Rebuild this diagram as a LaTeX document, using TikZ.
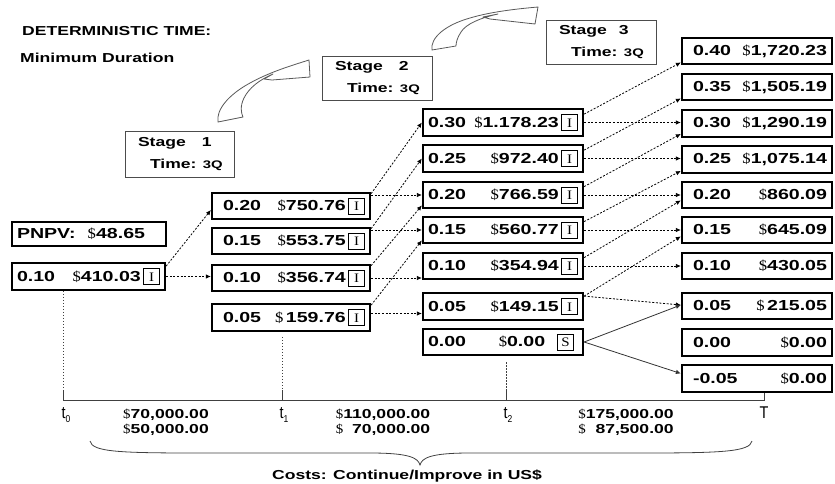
\documentclass[tikz,border=0pt]{standalone}
\usepackage{fontspec}
\setmainfont{Liberation Sans}[FakeStretch=1.35]
\newfontfamily\dolfont{Liberation Serif}[FakeStretch=1.15]
\newfontfamily\tfont{Liberation Sans}[FakeStretch=0.85]
\usetikzlibrary{arrows.meta,calc}
\newcommand\dsign{{\dolfont\mdseries\$}}
\newcommand\ibx[1]{{\setlength\fboxrule{0.9pt}\setlength\fboxsep{0pt}\fbox{\makebox[15pt][c]{\rule[-3pt]{0pt}{15pt}\dolfont\mdseries\fontsize{13}{13}\selectfont #1}}}}
\newcommand\vrowtext[3]{\makebox[#1]{#2\hfill#3}}
\newcommand\tsub[1]{\raisebox{-4pt}{\fontsize{10}{10}\selectfont #1}}
\begin{document}
\begin{tikzpicture}[x=1pt,y=-1pt,
  vbox/.style={draw, line width=2.3pt, inner xsep=5pt, inner ysep=0pt, minimum height=26.5pt, font=\bfseries\fontsize{14.5}{14.5}\selectfont},
  stagebox/.style={draw=black!70, line width=0.9pt, fill=white, align=left, inner xsep=5pt, inner ysep=0pt, font=\bfseries\fontsize{13}{22}\selectfont},
  flow/.style={dash pattern=on 2pt off 1.6pt, line width=0.8pt, -{Latex[length=5pt,width=4.5pt]}},
  solidflow/.style={line width=0.8pt, black!80, -{Latex[length=5pt,width=4.5pt]}},
  axis/.style={line width=0.9pt, black!75},
  vdot/.style={line width=0.8pt, black!75, dash pattern=on 1.5pt off 1.5pt},
  curvy/.style={draw=black!65, line width=0.8pt, fill=white, line join=round},
  tlabel/.style={font=\tfont\fontsize{17}{17}\selectfont, inner sep=0pt},
  cost/.style={font=\bfseries\fontsize{13}{15}\selectfont, inner sep=0pt},
  heading/.style={font=\bfseries\fontsize{13}{13}\selectfont, inner sep=0pt, anchor=west}]
\useasboundingbox (0,0) rectangle (835,483);

% headings
\node[heading] (h1) at (22,31) {DETERMINISTIC TIME:};
\node[heading] (h2) at (20,58) {Minimum Duration};

% stage boxes
\node[stagebox, text width=99pt, minimum height=46pt] (st1) at (179.5,154)
  {\hspace*{8pt}Stage\hspace{16pt}1\\\hspace*{20pt}Time: {\fontsize{11}{11}\selectfont 3Q}};
\node[stagebox, text width=100pt, minimum height=44pt] (st2) at (377,78)
  {\hspace*{8pt}Stage\hspace{16pt}2\\\hspace*{20pt}Time: {\fontsize{11}{11}\selectfont 3Q}};
\node[stagebox, text width=100pt, minimum height=44pt] (st3) at (601,42)
  {\hspace*{8pt}Stage\hspace{12pt}3\\\hspace*{20pt}Time: {\fontsize{11}{11}\selectfont 3Q}};

% curved arrows
\draw[curvy] (218,122) .. controls (216,110) and (228,95) .. (250,83)
  .. controls (270,72) and (290,66) .. (309,60) -- (310,77) -- (272,80) -- (264,79)
  -- (273,74) .. controls (259,80) and (249,88) .. (244,98)
  .. controls (240,106) and (241,113) .. (243,117) -- cycle;
\draw[curvy] (432,50) .. controls (430,38) and (445,25) .. (470,18)
  .. controls (490,12) and (515,9) .. (538,7) -- (535,24) -- (490,19) -- (483,17)
  -- (498,14) .. controls (480,18) and (466,24) .. (461,32)
  .. controls (457,38) and (456,43) .. (456,46) -- cycle;

% stage 0
\node[vbox, minimum width=154pt, minimum height=24pt] (pnpv) at (89,234)
  {\makebox[144pt][l]{PNPV:\hspace{12pt}\dsign48.65}};
\node[vbox, minimum width=153pt] (v0) at (88.5,276.5)
  {\vrowtext{143pt}{0.10}{\dsign410.03\,\ibx{I}}};

% stage 1
\node[vbox, minimum width=158pt] (p1a) at (291,206) {\vrowtext{148pt}{\hspace*{6pt}0.20}{\dsign750.76\,\ibx{I}}};
\node[vbox, minimum width=158pt] (p1b) at (291,241) {\vrowtext{148pt}{\hspace*{6pt}0.15}{\dsign553.75\,\ibx{I}}};
\node[vbox, minimum width=158pt] (p1c) at (291,278) {\vrowtext{148pt}{\hspace*{6pt}0.10}{\dsign356.74\,\ibx{I}}};
\node[vbox, minimum width=158pt] (p1d) at (291,317.5) {\vrowtext{148pt}{\hspace*{6pt}0.05}{\dsign\,159.76\,\ibx{I}}};

% stage 2
\node[vbox, minimum width=160pt] (p2a) at (503,122.5) {\vrowtext{150pt}{0.30}{\dsign1.178.23\,\ibx{I}}};
\node[vbox, minimum width=160pt] (p2b) at (503,158.5) {\vrowtext{150pt}{0.25}{\dsign972.40\,\ibx{I}}};
\node[vbox, minimum width=160pt] (p2c) at (503,195) {\vrowtext{150pt}{0.20}{\dsign766.59\,\ibx{I}}};
\node[vbox, minimum width=160pt] (p2d) at (503,230) {\vrowtext{150pt}{0.15}{\dsign560.77\,\ibx{I}}};
\node[vbox, minimum width=160pt] (p2e) at (503,266) {\vrowtext{150pt}{0.10}{\dsign354.94\,\ibx{I}}};
\node[vbox, minimum width=160pt] (p2f) at (503,306.5) {\vrowtext{150pt}{0.05}{\dsign149.15\,\ibx{I}}};
\node[vbox, minimum width=160pt] (p2g) at (503,342) {\vrowtext{150pt}{0.00}{\dsign0.00\hspace{12pt}\ibx{S}\hspace{4pt}}};

% stage 3
\node[vbox, minimum width=150pt] (p3a) at (757,51) {\vrowtext{140pt}{\hspace*{6pt}0.40}{\dsign1,720.23}};
\node[vbox, minimum width=150pt] (p3b) at (757,87) {\vrowtext{140pt}{\hspace*{6pt}0.35}{\dsign1,505.19}};
\node[vbox, minimum width=150pt] (p3c) at (757,123.5) {\vrowtext{140pt}{\hspace*{6pt}0.30}{\dsign1,290.19}};
\node[vbox, minimum width=150pt] (p3d) at (757,159.5) {\vrowtext{140pt}{\hspace*{6pt}0.25}{\dsign1,075.14}};
\node[vbox, minimum width=150pt] (p3e) at (757,195) {\vrowtext{140pt}{\hspace*{6pt}0.20}{\dsign860.09}};
\node[vbox, minimum width=150pt] (p3f) at (757,230) {\vrowtext{140pt}{\hspace*{6pt}0.15}{\dsign645.09}};
\node[vbox, minimum width=150pt] (p3g) at (757,266) {\vrowtext{140pt}{\hspace*{6pt}0.10}{\dsign430.05}};
\node[vbox, minimum width=150pt] (p3h) at (757,306) {\vrowtext{140pt}{\hspace*{6pt}0.05}{\dsign\,215.05}};
\node[vbox, minimum width=150pt] (p3i) at (757,342.5) {\vrowtext{140pt}{\hspace*{6pt}0.00}{\dsign0.00}};
\node[vbox, minimum width=150pt] (p3j) at (757,378.5) {\vrowtext{140pt}{\hspace*{6pt}-0.05}{\dsign0.00}};

% connectors stage 0 -> 1
\draw[flow] ($(v0.north east)+(0,4)$) -- ($(p1a.west)+(0,4)$);
\draw[flow] (v0.east) -- (v0.east -| p1c.west);

% stage 1 -> 2
\draw[flow] (p1a.east |- p2c.west) -- (p2c.west);
\draw[flow] (p1b.east |- p2d.west) -- (p2d.west);
\draw[flow] (p1c.east) -- (p1c.east -| p2e.west);
\draw[flow] ($(p1d.east)+(0,-4)$) coordinate (q1) -- (q1 -| p2f.west);
\draw[flow] ($(p1a.north east)+(0,2)$) -- (p2a.west);
\draw[flow] ($(p1b.north east)+(0,2)$) -- (p2b.west);
\draw[flow] ($(p1c.north east)+(0,2)$) -- ($(p2c.south west)+(0,-4)$);
\draw[flow] ($(p1d.north east)+(0,2)$) -- ($(p2d.south west)+(0,-4)$);

% stage 2 -> 3
\draw[flow] (p2a.east) -- (p2a.east -| p3c.west);
\draw[flow] (p2b.east) -- (p2b.east -| p3d.west);
\draw[flow] (p2c.east) -- (p2c.east -| p3e.west);
\draw[flow] (p2d.east) -- (p2d.east -| p3f.west);
\draw[flow] (p2e.east) -- (p2e.east -| p3g.west);
\draw[flow] ($(p2f.north east)+(0,4)$) -- ($(p3h.west)+(0,-1)$);
\draw[flow] ($(p2a.north east)+(0,6)$) -- ($(p3a.south west)+(0,-3)$);
\draw[flow] ($(p2b.north east)+(0,6)$) -- ($(p3b.south west)+(0,-3)$);
\draw[flow] ($(p2c.north east)+(0,6)$) -- ($(p3c.south west)+(0,-4)$);
\draw[flow] ($(p2d.north east)+(0,6)$) -- ($(p3d.south west)+(0,-3)$);
\draw[flow] ($(p2e.north east)+(0,6)$) -- ($(p3e.south west)+(0,-9)$);
\draw[flow] ($(p2f.north east)+(0,4)$) -- ($(p3f.south west)+(0,-8)$);
\draw[solidflow] (p2g.east) -- ($(p3h.west)+(0,-1)$);
\draw[solidflow] (p2g.east) -- ($(p3j.west)+(0,-5)$);

% timeline
\coordinate (t0) at (63,400);
\coordinate (t1) at (282,400);
\coordinate (t2) at (506,400);
\coordinate (tT) at (764,400);
\draw[axis] (t0) -- (tT) -- (tT |- p3j.south);
\draw[axis] (t0) -- ++(0,-10);
\draw[axis] (t1) -- ++(0,-10);
\draw[axis] (t2) -- ++(0,-10);
\draw[vdot] (t0 |- v0.south) -- ($(t0)+(0,-10)$);
\draw[vdot] ($(t1 |- p1d.south)+(0,5)$) -- ($(t1)+(0,-10)$);
\draw[vdot] ($(t2 |- p2g.south)+(0,6)$) -- ($(t2)+(0,-10)$);

\node[tlabel] (lt0) at (66,415) {t\tsub{0}};
\node[tlabel] (lt1) at (284,415) {t\tsub{1}};
\node[tlabel] (lt2) at (508,415) {t\tsub{2}};
\node[tlabel] (lT) at (764,413) {T};

\node[cost] (c1) at (166,422.5) {\begin{tabular}{@{}l@{}r@{}}\dsign&70,000.00\\\dsign&50,000.00\end{tabular}};
\node[cost] (c2) at (383,422.5) {\begin{tabular}{@{}l@{}r@{}}\dsign&110,000.00\\\dsign&70,000.00\end{tabular}};
\node[cost] (c3) at (626,422.5) {\begin{tabular}{@{}l@{}r@{}}\dsign&175,000.00\\\dsign&87,500.00\end{tabular}};

% brace
\draw[axis, line width=0.8pt] (90,441) .. controls (92,452) and (120,453) .. (200,453) -- (370,453)
  .. controls (410,453) and (418,458) .. (420,465)
  .. controls (422,458) and (430,453) .. (470,453) -- (640,453)
  .. controls (720,453) and (750,452) .. (752,441);
\node[cost] (cap) at (407,476) {Costs: Continue/Improve in US\$};
\end{tikzpicture}
\end{document}
